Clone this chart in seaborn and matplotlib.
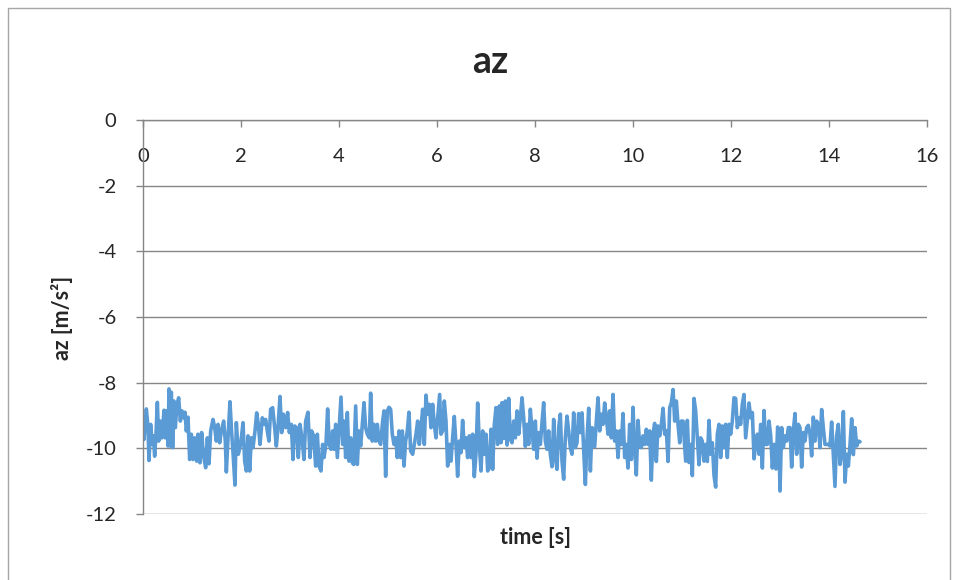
import matplotlib
matplotlib.use("Agg")
import matplotlib.pyplot as plt
from matplotlib.patches import Rectangle
import seaborn as sns

# Vertical acceleration samples: time [s] and az [m/s^2]
time_s = [
    0.000, 0.020, 0.068, 0.102, 0.122, 0.156, 0.184, 0.211, 0.238, 0.265,
    0.293, 0.320, 0.354, 0.388, 0.429, 0.456, 0.483, 0.510, 0.531, 0.558,
    0.578, 0.605, 0.633, 0.660, 0.694, 0.728, 0.762, 0.796, 0.830, 0.857,
    0.884, 0.918, 0.952, 0.986, 1.020, 1.054, 1.095, 1.122, 1.163, 1.197,
    1.231, 1.279, 1.313, 1.347, 1.381, 1.429, 1.463, 1.497, 1.531, 1.565,
    1.599, 1.646, 1.680, 1.701, 1.735,
    1.775, 1.809, 1.837, 1.877, 1.905, 1.945, 1.993, 2.041, 2.075, 2.109,
    2.143, 2.177, 2.211, 2.245, 2.286, 2.320, 2.354, 2.388, 2.435, 2.476,
    2.503, 2.537, 2.571, 2.605, 2.646, 2.687, 2.721, 2.755, 2.796, 2.830,
    2.864, 2.912, 2.952, 2.986, 3.027, 3.061, 3.095, 3.136, 3.170, 3.204,
    3.238, 3.286, 3.320, 3.367, 3.408, 3.442, 3.483, 3.524, 3.558, 3.592,
    3.632, 3.666, 3.694, 3.734, 3.768, 3.802, 3.836, 3.871, 3.898, 3.932,
    3.966, 4.000, 4.041, 4.075, 4.102, 4.136, 4.170, 4.204, 4.238, 4.272,
    4.299, 4.340, 4.374, 4.408, 4.442, 4.476, 4.510, 4.544, 4.578, 4.619,
    4.646, 4.680, 4.714, 4.748, 4.782, 4.816, 4.850, 4.884, 4.918, 4.952,
    4.986, 5.020, 5.054, 5.088, 5.122, 5.156, 5.190, 5.224, 5.258, 5.292,
    5.326, 5.360, 5.394, 5.428, 5.462,
    5.503, 5.537, 5.571, 5.605, 5.639, 5.673, 5.707, 5.741, 5.775, 5.809,
    5.843, 5.877, 5.911, 5.945, 5.979, 6.013, 6.054, 6.081, 6.115, 6.149,
    6.183, 6.217, 6.251, 6.285, 6.319, 6.353, 6.387, 6.421, 6.455, 6.489,
    6.523, 6.557, 6.591, 6.625, 6.659, 6.693, 6.727, 6.761, 6.795, 6.830,
    6.864, 6.898, 6.932, 6.966, 7.000, 7.034, 7.068, 7.102, 7.136, 7.170,
    7.204, 7.238, 7.272, 7.306,
    7.327, 7.361, 7.395, 7.429, 7.463, 7.497, 7.531, 7.565, 7.599, 7.633,
    7.667, 7.701, 7.735, 7.769, 7.803, 7.837, 7.871, 7.905, 7.939, 7.973,
    8.007, 8.041, 8.075, 8.109, 8.143, 8.177, 8.211, 8.245, 8.279, 8.313,
    8.347, 8.381, 8.415, 8.449, 8.483, 8.517, 8.551, 8.585, 8.619, 8.653,
    8.687, 8.721, 8.755, 8.789, 8.823, 8.857, 8.891, 8.926, 8.960, 8.994,
    9.028, 9.062, 9.096, 9.130, 9.164,
    9.218, 9.252, 9.286, 9.320, 9.354, 9.388, 9.422, 9.456, 9.490, 9.524,
    9.558, 9.592, 9.626, 9.660, 9.694, 9.728, 9.762, 9.796, 9.830, 9.864,
    9.898, 9.932, 9.966, 10.000, 10.034, 10.068, 10.102, 10.136, 10.170, 10.204,
    10.238, 10.272, 10.306, 10.340, 10.374, 10.408, 10.442, 10.476, 10.510, 10.545,
    10.579, 10.613, 10.647, 10.681, 10.715, 10.749, 10.783, 10.817, 10.851, 10.885,
    10.919, 10.953, 10.987, 11.021,
    11.075, 11.109, 11.143, 11.177, 11.211, 11.245, 11.279, 11.313, 11.347, 11.381,
    11.415, 11.449, 11.483, 11.517, 11.551, 11.585, 11.619, 11.653, 11.687, 11.721,
    11.755, 11.789, 11.823, 11.857, 11.891, 11.925, 11.959, 11.993, 12.027, 12.061,
    12.095, 12.129, 12.163, 12.197, 12.231, 12.265, 12.299, 12.333, 12.368, 12.402,
    12.436, 12.470, 12.504, 12.538, 12.572, 12.606, 12.640, 12.674, 12.708, 12.742,
    12.776, 12.810, 12.844, 12.878,
    12.918, 12.952, 12.980, 13.000, 13.034, 13.068, 13.102, 13.136, 13.170, 13.204,
    13.238, 13.272, 13.306, 13.340, 13.374, 13.408, 13.442, 13.476, 13.510, 13.544,
    13.578, 13.612, 13.646, 13.680, 13.714, 13.748, 13.782, 13.816, 13.850, 13.884,
    13.918, 13.952, 13.986, 14.020, 14.054, 14.088, 14.122, 14.156, 14.190, 14.224,
    14.258, 14.293, 14.327, 14.361, 14.395, 14.429, 14.463, 14.497, 14.531, 14.565,
    14.599, 14.633,
]

az = [
    -9.47, -9.73, -8.80, -9.37, -10.37, -9.27, -9.88, -9.62, -10.24, -9.57,
    -8.60, -9.78, -9.17, -9.68, -8.84, -9.68, -8.86, -9.93, -8.19, -9.93,
    -8.29, -9.98, -8.56, -9.37, -8.66, -8.46, -9.17, -8.86, -9.07, -8.90,
    -9.47, -9.05, -10.34, -9.57, -10.34, -9.68, -10.39, -9.57, -10.44, -9.52,
    -10.18, -10.59, -9.68, -10.47, -9.47, -9.12, -9.37, -9.78, -9.27, -9.83,
    -9.47, -9.17, -9.78, -10.72, -9.68,
    -8.58, -9.52, -10.13, -11.12, -9.22, -10.18, -9.88, -9.22, -10.39, -10.69,
    -9.62, -10.69, -9.68, -9.98, -9.47, -8.92, -9.27, -9.88, -9.07, -9.27,
    -9.12, -9.47, -9.78, -8.81, -8.76, -9.37, -9.93, -9.37, -8.42, -9.52,
    -8.96, -9.37, -8.91, -9.52, -9.27, -10.34, -9.32, -9.37, -10.28, -9.27,
    -9.62, -10.34, -9.17, -8.90, -10.28, -9.47, -9.62, -10.54, -9.57, -10.54,
    -10.69, -9.88, -10.28, -9.88, -8.80, -9.88, -10.03, -9.47, -10.03, -9.27,
    -10.28, -9.47, -8.44, -9.88, -9.17, -10.28, -8.91, -10.39, -9.68, -10.44,
    -10.49, -8.71, -10.49, -9.47, -9.93, -9.27, -8.61, -9.37, -9.57, -9.68,
    -8.32, -9.78, -9.27, -9.78, -9.27, -9.78, -9.88, -9.27, -8.86, -10.85,
    -8.86, -8.75, -8.81, -9.57, -9.88, -9.68, -10.28, -9.47, -10.28, -9.47,
    -10.54, -9.78, -9.47, -8.90, -10.08,
    -10.18, -9.88, -9.57, -9.17, -9.88, -9.37, -8.81, -9.88, -8.38, -8.96,
    -8.66, -9.37, -8.66, -9.27, -9.68, -9.07, -8.36, -9.57, -9.47, -8.56,
    -9.17, -10.54, -9.88, -10.39, -9.68, -9.03, -9.88, -10.85, -9.78, -10.13,
    -9.15, -9.98, -9.68, -10.28, -9.62, -10.28, -9.57, -10.86, -10.18, -8.62,
    -9.88, -10.69, -9.47, -10.18, -9.57, -10.69, -10.59, -9.42, -10.64, -9.27,
    -8.76, -9.88, -8.71, -9.83,
    -8.61, -9.70, -8.56, -9.90, -8.48, -9.73, -9.83, -9.17, -9.68, -8.86,
    -9.57, -9.07, -8.46, -9.07, -9.94, -9.27, -9.88, -8.81, -9.47, -10.03,
    -9.17, -10.30, -9.52, -9.88, -9.22, -8.61, -9.78, -10.03, -9.47, -10.18,
    -10.56, -9.12, -10.28, -10.64, -9.37, -8.96, -10.39, -10.94, -9.68, -9.02,
    -9.47, -9.98, -10.18, -8.92, -9.98, -9.83, -8.94, -9.52, -8.92, -10.08,
    -11.10, -9.68, -8.78, -10.69, -9.37,
    -9.95, -9.17, -8.46, -9.47, -8.96, -9.27, -8.62, -9.07, -9.57, -8.86,
    -9.68, -8.36, -9.78, -9.47, -10.28, -9.47, -9.88, -8.94, -10.28, -9.88,
    -10.60, -9.27, -10.34, -8.75, -9.98, -10.81, -9.15, -9.88, -9.98, -9.62,
    -9.88, -9.42, -9.88, -9.47, -10.97, -9.57, -9.24, -10.40, -9.32, -9.62,
    -9.27, -8.78, -9.57, -9.47, -10.40, -8.76, -8.61, -8.21, -9.17, -8.56,
    -9.27, -9.83, -9.17, -9.17,
    -10.39, -9.15, -10.43, -9.88, -10.83, -8.48, -8.86, -9.68, -10.50, -9.68,
    -9.78, -10.39, -9.88, -10.40, -9.15, -10.18, -9.83, -10.82, -11.18, -9.57,
    -9.27, -10.28, -9.32, -9.98, -9.27, -10.28, -9.27, -9.57, -9.17, -8.46,
    -8.48, -9.37, -9.07, -9.27, -8.66, -8.36, -9.68, -9.17, -8.62, -9.07,
    -8.91, -10.32, -9.88, -9.57, -10.18, -9.27, -10.60, -8.85, -9.88, -9.88,
    -9.17, -9.62, -10.60, -9.88,
    -10.63, -9.35, -9.88, -11.30, -9.37, -9.98, -9.62, -9.78, -9.37, -9.37,
    -10.57, -9.47, -8.94, -10.18, -9.27, -9.37, -10.57, -9.52, -9.78, -9.37,
    -9.30, -9.57, -10.23, -9.05, -9.78, -9.17, -9.27, -9.98, -8.82, -9.37,
    -9.88, -9.88, -9.88, -9.93, -9.20, -10.18, -11.16, -9.62, -9.27, -10.49,
    -10.18, -8.88, -11.03, -10.18, -10.54, -9.88, -9.10, -10.19, -9.37, -9.93,
    -9.78, -9.80,
]

x_ticks = [0, 2, 4, 6, 8, 10, 12, 14, 16]
y_ticks = [-12, -10, -8, -6, -4, -2, 0]

LINE_BLUE = "#5B9BD5"
AXIS_GREY = "#868686"

sns.set_theme(style="white")
plt.rcParams["font.family"] = ["Lato", "DejaVu Sans"]
plt.rcParams["axes.unicode_minus"] = False

W, H = 957, 580
fig = plt.figure(figsize=(W / 100, H / 100), dpi=100)
fig.patch.set_facecolor("white")

# chart-area frame
fig.patches.append(Rectangle((8 / W, -0.1), (950 - 8) / W, 1.1 - 8 / H,
                             transform=fig.transFigure, fill=False,
                             edgecolor="#a6a6a6", linewidth=1.0))

ax = fig.add_axes([143 / W, 1 - 514 / H, 784 / W, 394 / H])
sns.lineplot(x=time_s, y=az, ax=ax, color=LINE_BLUE, linewidth=2.6,
             estimator=None, sort=False)

ax.set_xlim(x_ticks[0], x_ticks[-1])
ax.set_ylim(y_ticks[0], y_ticks[-1])
ax.set_xticks(x_ticks)
ax.set_yticks(y_ticks)

ax.yaxis.grid(True, color=AXIS_GREY, linewidth=1.0)
ax.xaxis.grid(False)
ax.set_axisbelow(True)

for side in ("bottom", "right"):
    ax.spines[side].set_visible(False)
for side in ("left", "top"):
    ax.spines[side].set_visible(True)
    ax.spines[side].set_color(AXIS_GREY)
    ax.spines[side].set_linewidth(1.0)

# x axis crosses at y = 0, labels sit just under it
ax.xaxis.set_ticks_position("top")
ax.tick_params(axis="x", top=True, bottom=False, labeltop=True,
               labelbottom=False, direction="in", length=5,
               color=AXIS_GREY, width=1.0, labelsize=14.5, pad=-26.5)
for tick in ax.xaxis.get_major_ticks():
    tick.label2.set_va("center")

ax.tick_params(axis="y", left=True, direction="out", length=5,
               color=AXIS_GREY, width=1.0, labelsize=14.5, pad=14)

fig.text(490 / W, 1 - 62 / H, "az", fontsize=27, fontweight="bold",
         ha="center", va="center")
ax.set_xlabel("time [s]", fontsize=15.5, fontweight="bold")
ax.xaxis.set_label_coords((535 - 143) / 784, -(537 - 514) / 394)
ax.xaxis.label.set_va("center")
ax.set_ylabel("az [m/s²]", fontsize=15.5, fontweight="bold")
ax.yaxis.set_label_coords(-(143 - 62) / 784, (514 - 318) / 394)
ax.yaxis.label.set_va("center")

fig.savefig("out.png", dpi=100, facecolor="white")
